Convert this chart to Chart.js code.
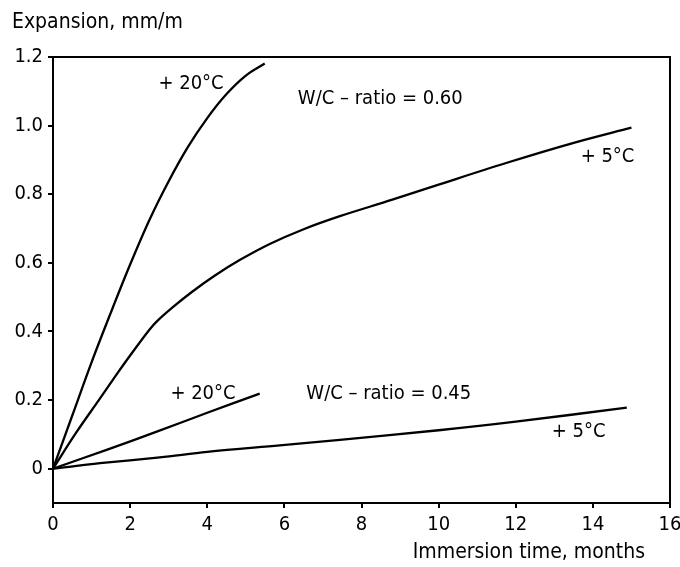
<!DOCTYPE html>
<html>
<head>
<meta charset="utf-8">
<script src="https://cdn.jsdelivr.net/npm/chart.js@4.4.1/dist/chart.umd.min.js"></script>
<style>
  html, body { margin: 0; padding: 0; background: #fff; }
  #wrap { width: 680px; height: 567px; }
</style>
</head>
<body>
<div id="wrap"><canvas id="c" width="680" height="567"></canvas></div>
<script>
// ---- data (months, mm/m) ----
const w60_20_x = [0, 0.5, 1.0, 1.5, 2.0, 2.5, 3.0, 3.5, 4.0, 4.5, 5.0, 5.49];
const w60_20_y = [0, 0.155, 0.31, 0.455, 0.595, 0.725, 0.838, 0.938, 1.022, 1.092, 1.146, 1.181];

const w60_5_x = [0, 0.6, 1.22, 1.65, 2.0, 2.5, 2.7, 3.1, 3.6, 4.2, 4.84, 5.62, 6.5, 7.44, 8.8, 10.0, 11.75, 13.48, 15.0];
const w60_5_y = [0, 0.105, 0.205, 0.275, 0.33, 0.405, 0.43, 0.47, 0.515, 0.563, 0.608, 0.655, 0.698, 0.736, 0.784, 0.828, 0.891, 0.949, 0.994];

const w45_20_x = [0, 1.39, 2.69, 4.0, 5.36];
const w45_20_y = [0, 0.055, 0.108, 0.163, 0.219];

const w45_5_x = [0, 1.22, 2.77, 4.0, 5.88, 7.44, 10.0, 12.0, 14.88];
const w45_5_y = [0, 0.016, 0.033, 0.049, 0.068, 0.084, 0.112, 0.137, 0.178];

const xTicks = [0, 2, 4, 6, 8, 10, 12, 14, 16];
const yTicks = [0, 0.2, 0.4, 0.6, 0.8, 1.0, 1.2];
const yTickLabels = ["0", "0.2", "0.4", "0.6", "0.8", "1.0", "1.2"];

const labelTexts = ["+ 20°C", "W/C – ratio = 0.60", "+ 5°C", "+ 20°C", "W/C – ratio = 0.45", "+ 5°C"];
const labelX = [3.58, 6.35, 14.38, 3.89, 6.57, 13.63];
const labelY = [1.123, 1.077, 0.910, 0.219, 0.219, 0.108];
const labelAlign = ["center", "left", "center", "center", "left", "center"];

const yTitle = "Expansion, mm/m";
const xTitle = "Immersion time, months";

// ---- build ----
const FONT = "'DejaVu Sans Condensed', 'Liberation Sans Narrow', 'DejaVu Sans', sans-serif";
function pts(xs, ys) { return xs.map((x, i) => ({ x: x, y: ys[i] })); }
const lineStyle = { showLine: true, borderColor: '#000', borderWidth: 2.3, pointRadius: 0, tension: 0.35, fill: false };

const textPlugin = {
  id: 'texts',
  afterDraw(chart) {
    const ctx = chart.ctx, a = chart.chartArea, sx = chart.scales.x, sy = chart.scales.y;
    ctx.save();
    ctx.strokeStyle = '#000'; ctx.lineWidth = 2;
    ctx.beginPath();
    ctx.moveTo(a.left, a.top); ctx.lineTo(a.right, a.top); ctx.lineTo(a.right, a.bottom);
    ctx.stroke();
    ctx.fillStyle = '#000';
    ctx.font = "20px " + FONT;
    ctx.textBaseline = 'middle';
    for (let i = 0; i < labelTexts.length; i++) {
      ctx.textAlign = labelAlign[i];
      ctx.fillText(labelTexts[i], sx.getPixelForValue(labelX[i]), sy.getPixelForValue(labelY[i]));
    }
    ctx.font = "21px " + FONT;
    ctx.textAlign = 'left';
    ctx.fillText(yTitle, 12, 23);
    ctx.textAlign = 'right';
    ctx.fillText(xTitle, 645, 553);
    ctx.restore();
  }
};

new Chart(document.getElementById('c'), {
  type: 'scatter',
  data: {
    datasets: [
      Object.assign({ data: pts(w60_20_x, w60_20_y) }, lineStyle),
      Object.assign({ data: pts(w60_5_x, w60_5_y) }, lineStyle),
      Object.assign({ data: pts(w45_20_x, w45_20_y) }, lineStyle),
      Object.assign({ data: pts(w45_5_x, w45_5_y) }, lineStyle)
    ]
  },
  options: {
    responsive: false,
    animation: false,
    events: [],
    layout: { padding: { top: 57, right: 0, left: 0, bottom: 0 } },
    plugins: { legend: { display: false }, tooltip: { enabled: false } },
    scales: {
      x: {
        type: 'linear', min: 0, max: 16,
        afterBuildTicks: s => { s.ticks = xTicks.map(v => ({ value: v })); },
        afterFit: s => { s.height = 64; s.paddingRight = 10; s.paddingLeft = 0; },
        ticks: { color: '#000', font: { size: 20, family: FONT }, padding: 5, maxRotation: 0,
                 callback: v => String(v) },
        grid: { display: true, drawOnChartArea: false, drawTicks: true, tickLength: 5, color: '#000', lineWidth: 2 },
        border: { display: true, color: '#000', width: 2 }
      },
      y: {
        type: 'linear', min: -0.1, max: 1.2,
        afterBuildTicks: s => { s.ticks = yTicks.map(v => ({ value: v })); },
        afterFit: s => { s.width = 53; s.paddingTop = 0; s.paddingBottom = 0; },
        ticks: { color: '#000', font: { size: 20, family: FONT }, padding: 5,
                 callback: (v, i) => yTickLabels[i] },
        grid: { display: true, drawOnChartArea: false, drawTicks: true, tickLength: 5, color: '#000', lineWidth: 2 },
        border: { display: true, color: '#000', width: 2 }
      }
    }
  },
  plugins: [textPlugin]
});
</script>
</body>
</html>
